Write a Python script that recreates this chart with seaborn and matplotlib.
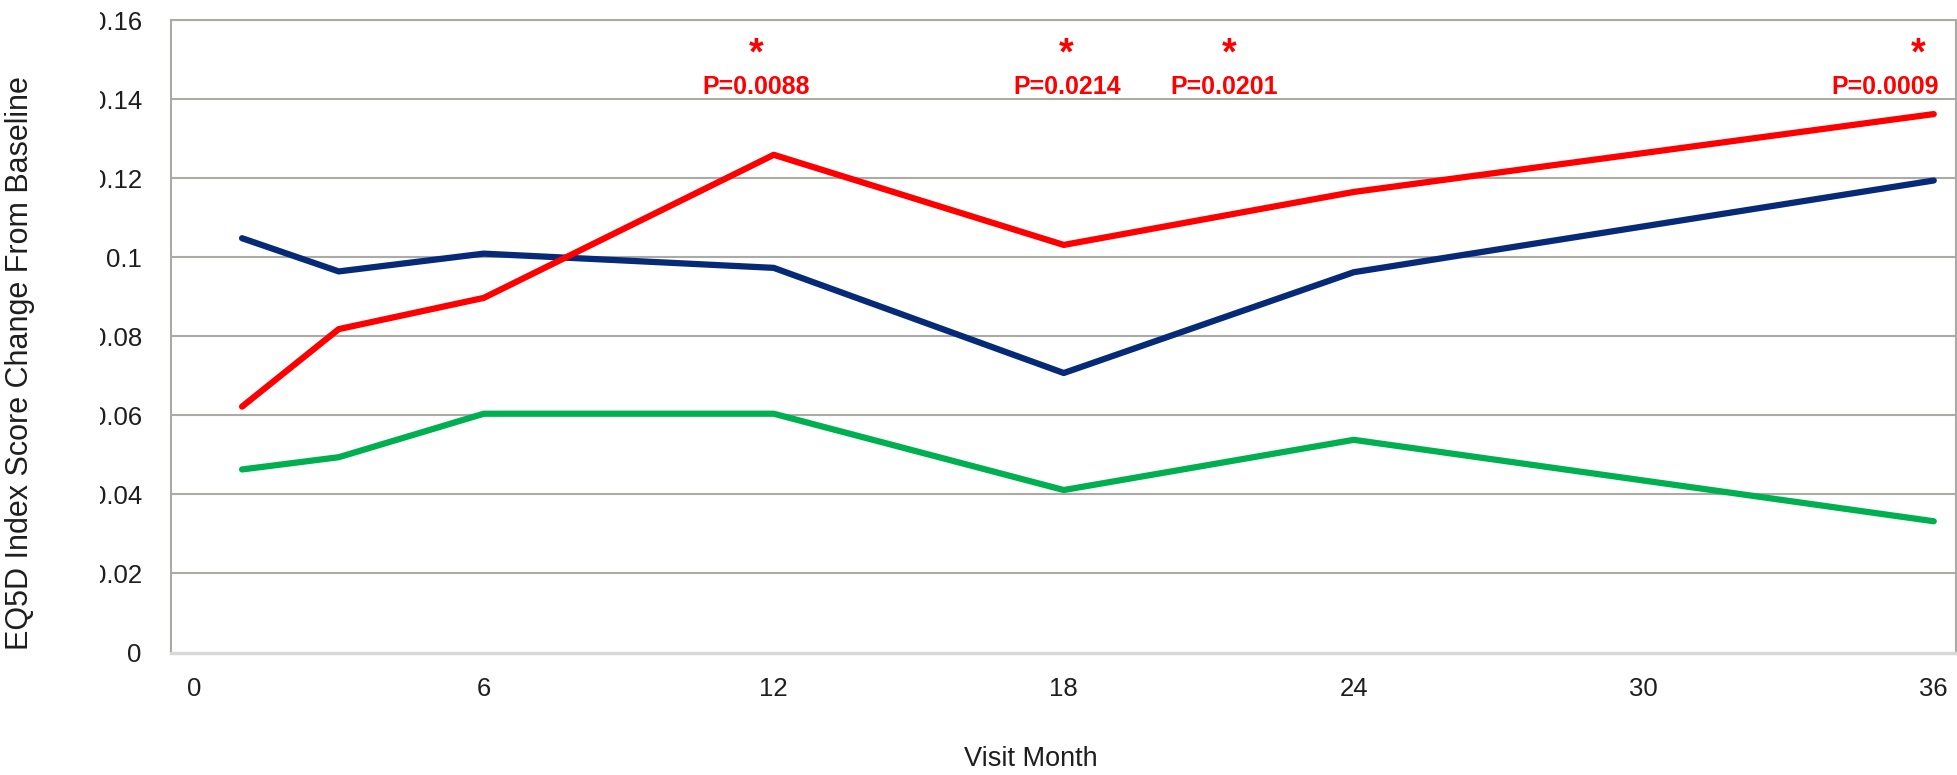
import matplotlib
matplotlib.use("Agg")
import matplotlib.pyplot as plt
from matplotlib.transforms import Bbox, TransformedBbox
import pandas as pd
import seaborn as sns

# data
months = [1, 3, 6, 12, 18, 24, 36]
red_vals = [0.0622, 0.0818, 0.0897, 0.1259, 0.1031, 0.1165, 0.1362]
navy_vals = [0.1048, 0.0964, 0.1009, 0.0973, 0.0707, 0.0962, 0.1194]
green_vals = [0.0463, 0.0494, 0.0604, 0.0604, 0.0411, 0.0538, 0.0332]

x_ticks = [0, 6, 12, 18, 24, 30, 36]
y_ticks = [0, 0.02, 0.04, 0.06, 0.08, 0.10, 0.12, 0.14, 0.16]

# significance marks
star_x = [11.63, 18.05, 21.42, 35.68]
p_x = [11.63, 18.07, 21.32, 34.99]
p_labels = ["P=0.0088", "P=0.0214", "P=0.0201", "P=0.0009"]

W, H = 1957, 775
sns.set_theme(style="white")
plt.rcParams["font.family"] = ["Liberation Sans", "DejaVu Sans"]

df = pd.concat([
    pd.DataFrame({"month": months, "change": navy_vals, "series": "navy"}),
    pd.DataFrame({"month": months, "change": green_vals, "series": "green"}),
    pd.DataFrame({"month": months, "change": red_vals, "series": "red"}),
])
palette = {"navy": "#062A78", "green": "#00B050", "red": "#FF0000"}

fig = plt.figure(figsize=(W / 100, H / 100), dpi=100, facecolor="white")
ax = fig.add_axes([171 / W, 1 - 652.5 / H, (1956 - 171) / W, (652.5 - 20) / H])

grid_c = "#ABABA6"
for v in y_ticks[1:]:
    ax.axhline(v, color=grid_c, lw=1.5, zorder=0)

sns.lineplot(data=df, x="month", y="change", hue="series",
             hue_order=["navy", "green", "red"], palette=palette,
             lw=4.5, legend=False, errorbar=None, sort=False,
             solid_capstyle="round", ax=ax)

ax.set_xlim(-0.47, 36.46)
ax.set_ylim(0, 0.16)
ax.set_xticks(x_ticks)
ax.set_xticklabels([str(t) for t in x_ticks])
ax.set_yticks(y_ticks)
ax.set_yticklabels([f"{v:g}" for v in y_ticks])
ax.tick_params(axis="both", length=0, labelsize=18.5, labelcolor="#1E1E1E")
ax.tick_params(axis="x", pad=18)
ax.tick_params(axis="y", pad=21)

for side in ["left", "right", "top"]:
    ax.spines[side].set_color(grid_c)
    ax.spines[side].set_linewidth(1.5)
ax.spines["bottom"].set_color("#D9D9D9")
ax.spines["bottom"].set_linewidth(2.5)

ax.set_xlabel("Visit Month", fontsize=19.5, color="#1E1E1E")
ax.xaxis.set_label_coords(0.4818, -0.148)
ax.set_ylabel("EQ5D Index Score Change From Baseline", fontsize=22, color="#1E1E1E")
ax.yaxis.set_label_coords(-0.076, 0.458)

for sx, px, lab in zip(star_x, p_x, p_labels):
    ax.text(sx, 0.1488, "*", color="#FF0000", fontsize=27, fontweight="bold",
            ha="center", va="baseline")
    ax.text(px, 0.1413, lab, color="#FF0000", fontsize=18, fontweight="bold",
            ha="center", va="baseline")

# the reference crops the leading digit of the y tick labels
fig.canvas.draw()
clip = TransformedBbox(Bbox.from_extents(100 / W, 0, 1, 1), fig.transFigure)
for lab in ax.get_yticklabels():
    lab.set_clip_box(clip)
    lab.set_clip_on(True)

fig.savefig("out.png", dpi=100, facecolor="white")
plt.close(fig)
